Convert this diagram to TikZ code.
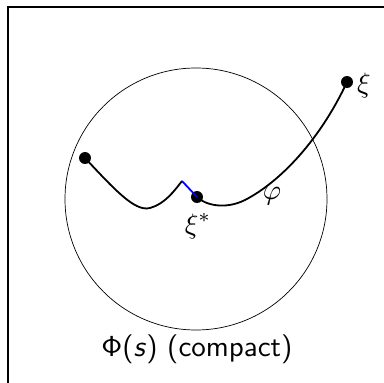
\documentclass[tikz,border=0pt]{standalone}
\begin{document}
\begin{tikzpicture}[x=1pt,y=-1pt,
  dot/.style={circle,fill=black,inner sep=0pt,minimum size=12pt},
  lbl/.style={inner sep=1pt},
  curve/.style={line width=1.8pt,black},
  link/.style={line width=1.8pt,blue}]
\clip (0,0) rectangle (384,383);
\draw[line width=1.3pt] (8,7) rectangle (420,420);
\draw[line width=0.7pt] (196,199) circle[radius=131];
\coordinate (cusp) at (182,181);
\node[dot] (a) at (85,158) {};
\node[dot] (xs) at (197,197) {};
\node[dot] (x) at (347,82) {};
\draw[curve] (a.center) .. controls (115,190) and (135,212) .. (150,208) .. controls (165,204) and (175,190) .. (cusp);
\draw[curve] (xs.center) .. controls (205,205) and (225,210) .. (245,200) .. controls (280,182) and (320,140) .. (x.center);
\draw[link] (cusp) -- (xs.center);
\node[lbl,anchor=west] (xl) at (356,85) {\scalebox{2.8}{$\xi$}};
\node[lbl] (xsl) at (198,226) {\scalebox{2.8}{$\xi^*$}};
\node[lbl] (phl) at (272,196) {\scalebox{2.8}{$\varphi$}};
\node[lbl] (cap) at (197,349) {\scalebox{2.9}{\sffamily $\mathsf{\Phi}$(\textit{s}) (compact)}};
\end{tikzpicture}
\end{document}
